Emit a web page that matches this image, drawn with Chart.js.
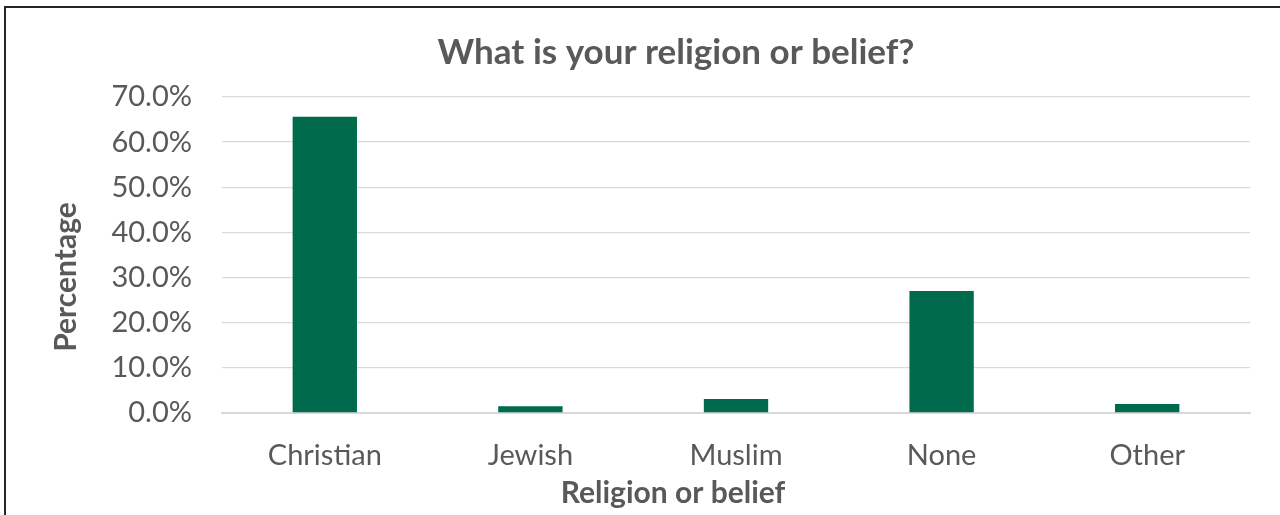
<!DOCTYPE html>
<html><head><meta charset="utf-8">
<script src="https://cdn.jsdelivr.net/npm/chart.js@4.4.1/dist/chart.umd.min.js"></script>
<style>
html,body{margin:0;padding:0;background:#fff;width:1280px;height:515px;overflow:hidden;}
#frame{position:absolute;left:4px;top:6px;width:1400px;height:600px;border-left:2px solid #262626;border-top:2px solid #262626;}
#wrap{position:absolute;left:0;top:0;width:1280px;height:515px;}
</style></head><body>
<div id="frame"></div>
<div id="wrap"><canvas id="c" width="1280" height="515"></canvas></div>
<script>
const categories = ['Christian', 'Jewish', 'Muslim', 'None', 'Other'];
const percentages = [65.6, 1.5, 3.1, 27.0, 2.0];
const yTickValues = [0, 10, 20, 30, 40, 50, 60, 70];
const chartTitle = 'What is your religion or belief?';
const xAxisTitle = 'Religion or belief';
const yAxisTitle = 'Percentage';

const FONT = 'Lato, "Open Sans", sans-serif';
const TEXT = '#595959';

const titlesPlugin = {
  id: 'excelTitles',
  afterDraw(chart) {
    const ctx = chart.ctx;
    ctx.save();
    ctx.fillStyle = TEXT;
    ctx.textAlign = 'center';
    ctx.textBaseline = 'alphabetic';
    ctx.font = 'bold 35px ' + FONT;
    ctx.fillText(chartTitle, 676, 64);
    ctx.font = 'bold 30px ' + FONT;
    ctx.fillText(xAxisTitle, 673, 503);
    ctx.translate(76, 277);
    ctx.rotate(-Math.PI / 2);
    ctx.fillText(yAxisTitle, 0, 0);
    ctx.restore();
  }
};

new Chart(document.getElementById('c'), {
  type: 'bar',
  data: {
    labels: categories,
    datasets: [{
      data: percentages,
      backgroundColor: '#006a4c',
      borderWidth: 0,
      barPercentage: 0.313,
      categoryPercentage: 1.0
    }]
  },
  options: {
    responsive: false,
    animation: false,
    layout: { padding: { top: 97, right: 30, bottom: 0, left: 0 } },
    plugins: { legend: { display: false }, tooltip: { enabled: false }, title: { display: false } },
    scales: {
      x: {
        grid: { display: false },
        border: { display: true, color: '#d9d9d9', width: 2 },
        ticks: { color: TEXT, font: { family: FONT, size: 29 }, padding: 17, maxRotation: 0 },
        afterFit(scale) { scale.height = 102; }
      },
      y: {
        min: 0, max: 70,
        afterBuildTicks(scale) { scale.ticks = yTickValues.map(v => ({ value: v })); },
        grid: { color: '#d9d9d9', lineWidth: 1.3, drawTicks: false },
        border: { display: false },
        ticks: { color: TEXT, font: { family: FONT, size: 29 }, padding: 30, callback: v => v.toFixed(1) + '%' },
        afterFit(scale) { scale.width = 222; }
      }
    }
  },
  plugins: [titlesPlugin]
});
</script>
</body></html>
